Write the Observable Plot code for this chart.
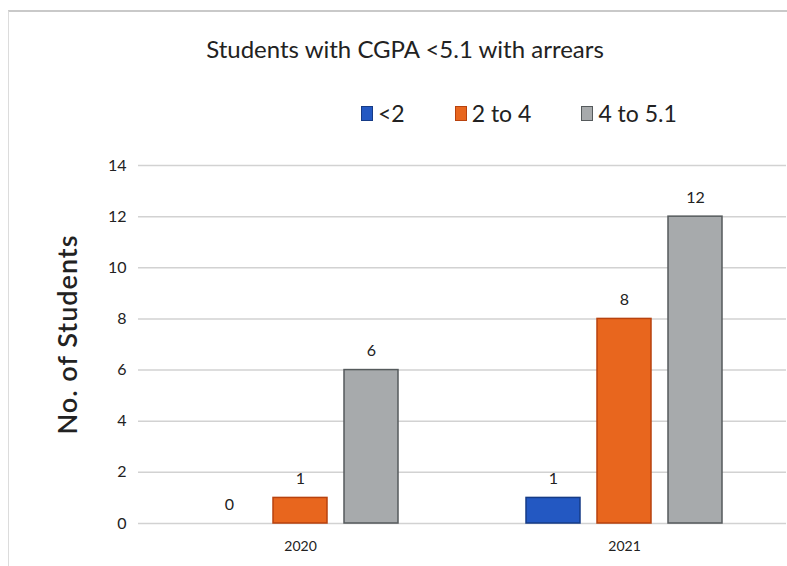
<!DOCTYPE html>
<html>
<head>
<meta charset="utf-8">
<script src="https://cdn.jsdelivr.net/npm/d3@7"></script>
<script src="https://cdn.jsdelivr.net/npm/@observablehq/plot@0.6"></script>
<style>
  html, body { margin: 0; padding: 0; background: #fff; }
  #wrap { position: relative; width: 787px; height: 566px; overflow: hidden; font-family: Lato, "Open Sans", sans-serif; color: #222; }
  #frame { position: absolute; left: 8px; top: 10px; width: 800px; height: 600px; border-top: 2px solid #c9c9c9; border-left: 1px solid #dcdcdc; }
  #title { position: absolute; left: 0; width: 810px; top: 34px; text-align: center; font-size: 24px; line-height: 30px; }
  #legend { position: absolute; left: 361px; top: 98px; font-size: 23px; line-height: 30px; display: flex; align-items: center; }
  .item { display: flex; align-items: center; margin-right: 50px; }
  .sw { width: 12px; height: 15px; margin-right: 5px; box-sizing: border-box; border: 1.5px solid; }
  #chart { position: absolute; left: 0; top: 140px; }
</style>
</head>
<body>
<div id="wrap">
  <div id="frame"></div>
  <div id="title">Students with CGPA &lt;5.1 with arrears</div>
  <div id="legend"></div>
  <div id="chart"></div>
</div>
<script>
const years = ["2020", "2021"];
const categories = ["<2", "2 to 4", "4 to 5.1"];
const lessThan2 = [0, 1];
const twoTo4 = [1, 8];
const fourTo51 = [6, 12];
const yTicks = [0, 2, 4, 6, 8, 10, 12, 14];
const fills = ["#2358c2", "#e8661e", "#a7aaac"];
const strokes = ["#163b86", "#b8420e", "#555a5c"];

const series = [lessThan2, twoTo4, fourTo51];
const data = [];
years.forEach((yr, i) => {
  categories.forEach((c, j) => {
    data.push({ year: yr, cat: c, value: series[j][i] });
  });
});

// legend
const legend = document.getElementById("legend");
categories.forEach((c, j) => {
  const it = document.createElement("div");
  it.className = "item";
  const sw = document.createElement("div");
  sw.className = "sw";
  sw.style.background = fills[j];
  sw.style.borderColor = strokes[j];
  const t = document.createElement("span");
  t.textContent = c;
  it.appendChild(sw);
  it.appendChild(t);
  legend.appendChild(it);
});

const chart = Plot.plot({
  width: 787,
  height: 426,
  marginTop: 25,
  marginBottom: 43,
  marginLeft: 138,
  marginRight: 1,
  style: { fontFamily: "Lato, 'Open Sans', sans-serif", color: "#222", background: "transparent" },
  fx: { domain: years, padding: 0, label: null },
  x: { domain: categories, paddingInner: 0.236, paddingOuter: 0.87, axis: null },
  y: { domain: [0, 14] },
  color: { domain: categories, range: fills },
  marks: [
    Plot.ruleY(yTicks, { stroke: "#d2d2d2", strokeWidth: 1.5 }),
    Plot.axisY({
      ticks: yTicks, tickSize: 0, tickPadding: 12, fontSize: 16,
      label: "No. of Students", labelAnchor: "center", labelArrow: "none", labelOffset: 81
    }),
    Plot.barY(data.filter(d => d.value > 0), {
      fx: "year", x: "cat", y: "value", fill: "cat",
      stroke: d => strokes[categories.indexOf(d.cat)], strokeWidth: 1.5
    }),
    Plot.text(data, {
      fx: "year", x: "cat", y: "value", text: d => String(d.value),
      lineAnchor: "bottom", dy: -14, fontSize: 16, fill: "#222"
    }),
    Plot.axisFx({ anchor: "bottom", tickSize: 0, tickPadding: 18, fontSize: 14, label: null })
  ]
});
// enlarge the y label
chart.querySelectorAll("g[aria-label='y-axis label'] text, [aria-label='y-axis label']").forEach(el => {
  el.setAttribute("font-size", "27");
  el.setAttribute("font-weight", "600");
  el.style.fontSize = "27px";
  el.style.letterSpacing = "1px";
  if (el.tagName === "text") el.setAttribute("dx", "10");
});
document.getElementById("chart").appendChild(chart);
</script>
</body>
</html>
